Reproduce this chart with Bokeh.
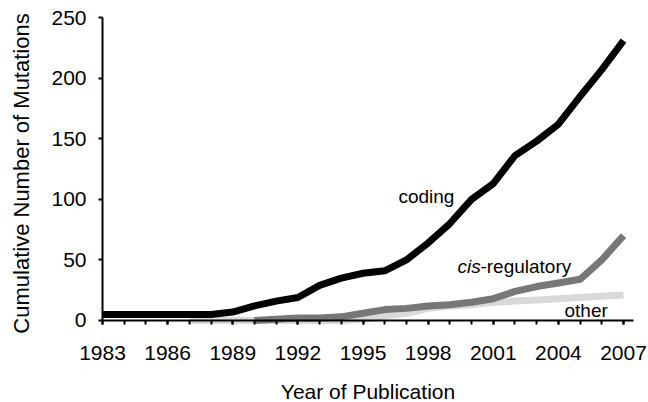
import math
from bokeh.plotting import figure
from bokeh.models import Range1d, FixedTicker, Label
from bokeh.embed import file_html
from bokeh.resources import INLINE

# ---- data ----
years = list(range(1983, 2008))
coding = [5, 5, 5, 5, 5, 5, 7, 12, 16, 19, 29, 35, 39, 41, 50, 64, 80, 100,
          113, 136, 148, 162, 185, 207, 231]
cis_years = list(range(1990, 2008))
cis = [0, 1, 2, 2, 3, 6, 9, 10, 12, 13, 15, 18, 24, 28, 31, 34, 50, 70]
other_years = list(range(1987, 2008))
other = [0, 0, 0, 0, 0, 0, 0, 0, 1, 4, 6, 10, 12, 13, 15, 16, 17, 18, 19, 20, 21]
x_tick_labels = list(range(1983, 2008, 3))
y_ticks = [0, 50, 100, 150, 200, 250]

FONT = "Liberation Sans"

# The frame fills the whole canvas (so nothing is clipped); both axes are
# pinned at the data origin (1983, 0) and bounded to the data extent.
p = figure(width=648, height=402, output_backend="svg", toolbar_location=None,
           x_range=Range1d(1978.302, 2008.15), y_range=Range1d(-67.66, 264.03),
           min_border_left=0, min_border_right=0, min_border_top=0,
           min_border_bottom=0)
p.outline_line_color = None
p.grid.visible = False
p.background_fill_color = "white"
p.border_fill_color = "white"

p.line(other_years, other, line_color="#d9d9d9", line_width=7, line_join="round")
p.line(cis_years, cis, line_color="#777777", line_width=7, line_join="round")
p.line(years, coding, line_color="#000000", line_width=7, line_join="round")

# x axis
xa = p.xaxis[0]
xa.fixed_location = 0
xa.bounds = (1983, 2007.46)
xa.ticker = FixedTicker(ticks=x_tick_labels, minor_ticks=years)
xa.axis_label = "Year of Publication"
xa.axis_line_width = 2
xa.axis_line_color = "black"
xa.major_tick_in = 0
xa.major_tick_out = 4
xa.minor_tick_in = 0
xa.minor_tick_out = 4
xa.major_tick_line_width = 2
xa.minor_tick_line_width = 2
xa.major_tick_line_color = "black"
xa.minor_tick_line_color = "black"
xa.major_label_standoff = 22
xa.major_label_text_font = FONT
xa.major_label_text_font_size = "21px"
xa.major_label_text_color = "black"
xa.axis_label_text_font = FONT
xa.axis_label_text_font_size = "21px"
xa.axis_label_text_font_style = "normal"
xa.axis_label_text_color = "black"
xa.axis_label_standoff = 16

# y axis
ya = p.yaxis[0]
ya.fixed_location = 1983
ya.bounds = (0, 250)
ya.ticker = FixedTicker(ticks=y_ticks)
ya.axis_line_width = 2
ya.axis_line_color = "black"
ya.major_tick_in = 0
ya.major_tick_out = 4
ya.minor_tick_out = 0
ya.minor_tick_in = 0
ya.major_tick_line_width = 2
ya.major_tick_line_color = "black"
ya.major_label_standoff = 12
ya.major_label_text_font = FONT
ya.major_label_text_font_size = "21px"
ya.major_label_text_color = "black"

# y axis title (rotated label centred on 0..250)
p.add_layout(Label(x=1979.269, y=121.3, text="Cumulative Number of Mutations",
                   angle=math.pi / 2, text_align="center",
                   text_baseline="alphabetic", text_font=FONT,
                   text_font_size="22px", text_color="black"))

# series labels
p.add_layout(Label(x=1996.63, y=102.3, text="coding", text_font=FONT,
                   text_font_size="19px", text_baseline="alphabetic",
                   text_color="black"))
p.add_layout(Label(x=1999.35, y=44.5, text="cis", text_font=FONT,
                   text_font_size="19px", text_font_style="italic",
                   text_baseline="alphabetic", text_color="black"))
p.add_layout(Label(x=1999.35, y=44.5, x_offset=23, text="-regulatory",
                   text_font=FONT, text_font_size="19px",
                   text_baseline="alphabetic", text_color="black"))
p.add_layout(Label(x=2004.28, y=8.2, text="other", text_font=FONT,
                   text_font_size="19px", text_baseline="alphabetic",
                   text_color="black"))

open("out.html", "w").write(file_html(p, INLINE))
